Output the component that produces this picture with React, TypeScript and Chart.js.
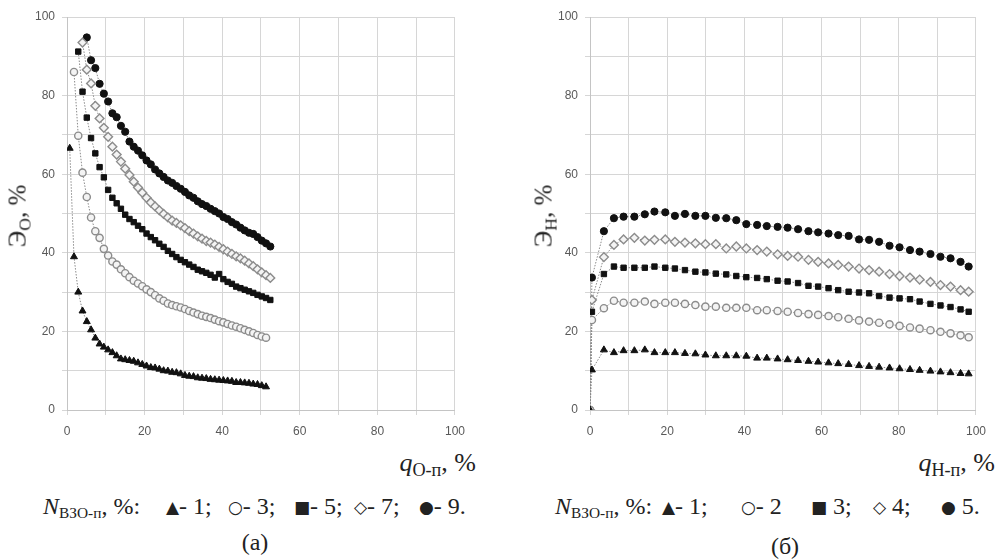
import React, { useEffect, useRef } from "react";
import { Chart, registerables } from "chart.js";
Chart.register(...registerables);

// ---- Chart (a): x positions shared by all series (each series starts at its own index)
const LEFT_X = [0.7, 1.8, 2.9, 4.0, 5.1, 6.2, 7.3, 8.4, 9.5, 10.6, 11.7, 12.8, 13.9, 15.0, 16.1, 17.2, 18.3, 19.4, 20.5, 21.6, 22.7, 23.8, 24.9, 26.0, 27.1, 28.2, 29.3, 30.4, 31.5, 32.6, 33.7, 34.8, 35.9, 37.0, 38.1, 39.2, 40.3, 41.4, 42.5, 43.6, 44.7, 45.8, 46.9, 48.0, 49.1, 50.2, 51.3, 52.4];

const A_N1 = [66.6, 39, 30, 25.2, 22.5, 20.4, 18.3, 16.8, 16, 15.3, 14.6, 13.8, 13, 12.8, 12.6, 12.4, 12, 11.6, 11.2, 10.8, 10.7, 10.4, 10, 9.9, 9.6, 9.5, 9.2, 8.8, 8.6, 8.5, 8.2, 8.1, 8, 7.8, 7.7, 7.6, 7.5, 7.4, 7.3, 7, 7, 6.9, 6.8, 6.6, 6.5, 6.2, 5.9];
const A_N3 = [86, 69.8, 60.4, 54.2, 49, 45.5, 43.8, 41, 39.3, 37.8, 37, 35.8, 34.8, 33.8, 32.9, 32.2, 31.5, 30.7, 30, 29.2, 28.4, 27.8, 27.1, 26.7, 26.4, 26.1, 25.7, 25.2, 24.8, 24.4, 24, 23.7, 23.4, 23, 22.6, 22.3, 21.9, 21.5, 21.2, 20.8, 20.4, 20, 19.6, 19.1, 18.7, 18.4];
const A_N5 = [91.2, 81, 74.4, 69.2, 65.3, 61.8, 59.2, 56, 54, 52.6, 51.2, 49.7, 48.6, 47.8, 46.9, 46, 44.9, 44, 43.2, 42.3, 41.5, 40.5, 39.7, 38.9, 38.2, 37.6, 37, 36.4, 35.7, 35.3, 34.9, 34.4, 33.7, 34.6, 33.3, 32.6, 32.1, 31.4, 31, 30.6, 30.2, 29.8, 29.3, 28.9, 28.5, 28];
const A_N7 = [93.5, 86.6, 83.1, 77.4, 74.2, 71.8, 69.5, 67, 65, 63.2, 61.4, 59.8, 58.1, 56.6, 55.3, 54, 52.8, 51.8, 50.8, 49.9, 49, 48.2, 47.6, 47, 46.3, 45.5, 44.9, 44.2, 43.6, 43, 42.6, 42.1, 41.5, 40.9, 40.3, 39.7, 39.1, 38.6, 38, 37.3, 36.6, 35.8, 35, 34.3, 33.6];
const A_N9 = [94.8, 89, 87, 83, 80.5, 78.5, 75.5, 74.5, 72.3, 70.8, 68.3, 67, 66, 64.8, 63.5, 62.5, 61.2, 60.2, 59.3, 58.4, 57.8, 57, 56.3, 55.5, 54.6, 54, 53.1, 52.4, 51.9, 51.2, 50.6, 50, 49.1, 48.6, 47.8, 47.2, 46.4, 45.7, 45.1, 44.8, 44, 43.1, 42.4, 41.6];
const A_START = [0, 1, 2, 3, 4];
const A_LEGEND = ["▲- 1;", "○- 3;", "■- 5;", "◇- 7;", "●- 9."];

// ---- Chart (б)
const RIGHT_X = [0, 0.5, 3.6, 6.2, 8.7, 11.5, 14.2, 16.7, 19.5, 22, 24.6, 27.3, 29.9, 32.6, 35.3, 37.9, 40.5, 43.3, 45.8, 48.6, 51.2, 53.9, 56.6, 59.1, 61.8, 64.3, 67, 69.7, 72.3, 74.9, 77.6, 80.2, 82.9, 85.4, 88.2, 90.8, 93.4, 96, 98.1];
const B_N1 = [0, 10.2, 15.3, 14.6, 15.1, 15.1, 15.3, 14.6, 14.6, 14.6, 14.4, 14.3, 14, 13.8, 13.8, 13.8, 13.7, 13.2, 13.2, 13, 12.8, 12.6, 12.4, 12.2, 12, 11.8, 11.6, 11.3, 11.1, 10.9, 10.7, 10.5, 10.3, 10.1, 9.9, 9.7, 9.5, 9.3, 9.2];
const B_N2 = [0, 22.9, 25.9, 27.8, 27.3, 27.3, 27.6, 27, 27.3, 27.3, 27, 26.7, 26.3, 26.3, 26, 26, 26, 25.4, 25.4, 25.2, 25, 24.7, 24.4, 24.2, 23.9, 23.6, 23.2, 22.8, 22.5, 22.2, 21.8, 21.4, 21, 20.7, 20.3, 19.9, 19.5, 19, 18.5];
const B_N3 = [0, 25, 34.6, 36.5, 36.2, 36.2, 36.2, 36.5, 36.2, 36, 35.6, 35.2, 35, 34.7, 34.5, 34.1, 33.8, 33.6, 33.3, 32.9, 32.7, 32.3, 31.6, 31.4, 31, 30.5, 30.1, 29.9, 29.7, 29, 28.6, 28.4, 28.2, 27.6, 27, 26.6, 26.2, 25.6, 25];
const B_N4 = [0, 28, 38.9, 42, 43.4, 43.8, 43.1, 43.3, 43.4, 42.8, 42.6, 42.4, 42.2, 42.2, 41.1, 41.6, 41.1, 40.7, 40.3, 39.6, 39.2, 39, 38.2, 37.7, 37.3, 36.9, 36.5, 36, 35.6, 35.2, 34.6, 34.1, 33.7, 33.2, 32.6, 31.8, 31.4, 30.5, 30.1];
const B_N5 = [0, 33.7, 45.5, 48.8, 49.2, 49.2, 49.8, 50.5, 50.3, 49.4, 49.9, 49.4, 49.4, 48.9, 48.8, 48.3, 47.3, 47.1, 46.8, 46.6, 46.4, 46, 45.5, 45.2, 44.9, 44.5, 44.3, 43.4, 43.3, 42.8, 41.8, 41.4, 40.7, 40.3, 39.7, 39, 38.6, 37.7, 36.5];
const B_LEGEND = ["▲- 1;", "○- 2", "■ 3;", "◇ 4;", "● 5."];

const AXIS_TICKS = [0, 20, 40, 60, 80, 100];

type Marker = { style: string; fill: string; stroke: string; r: number; bw: number };
const MARKERS: Marker[] = [
  { style: "triangle", fill: "#111", stroke: "#111", r: 4, bw: 1 },
  { style: "circle", fill: "#f4f4f4", stroke: "#8c8c8c", r: 3.6, bw: 1.4 },
  { style: "rect", fill: "#111", stroke: "#111", r: 3.8, bw: 1 },
  { style: "rectRot", fill: "#f4f4f4", stroke: "#8c8c8c", r: 4.4, bw: 1.4 },
  { style: "circle", fill: "#111", stroke: "#111", r: 3.6, bw: 1 },
];

function pts(xs: number[], ys: number[], start: number) {
  return ys.map((y, i) => ({ x: xs[start + i], y }));
}

function makeDatasets(series: { x: number; y: number }[][]) {
  return series.map((data, i) => {
    const m = MARKERS[i];
    return {
      data,
      showLine: true,
      borderColor: "#8a8a8a",
      borderWidth: 1,
      borderDash: [1.5, 1.5],
      pointStyle: m.style,
      pointRadius: m.r,
      pointBackgroundColor: m.fill,
      pointBorderColor: m.stroke,
      pointBorderWidth: m.bw,
    };
  });
}

function axis(isX: boolean, size: number) {
  return {
    type: "linear",
    min: 0,
    max: 100,
    afterFit: (s: any) => {
      if (isX) s.height = size;
      else s.width = size;
    },
    afterBuildTicks: (s: any) => {
      const t: any[] = [];
      for (let v = 0; v <= 100; v += 10) t.push({ value: v });
      s.ticks = t;
    },
    ticks: {
      autoSkip: false,
      maxRotation: 0,
      padding: isX ? 9 : 7,
      color: "#595959",
      font: { family: "'Liberation Sans', Arial, sans-serif", size: 12 },
      callback: (v: number) => (AXIS_TICKS.includes(v) ? String(v) : ""),
    },
    grid: { color: "#d6d6d6", lineWidth: 1, tickLength: 5, drawTicks: true },
    border: { color: "#c4c4c4" },
  };
}

function ChartCanvas(props: { series: { x: number; y: number }[][]; left: number; width: number; yAxisW: number }) {
  const ref = useRef<HTMLCanvasElement>(null);
  useEffect(() => {
    if (!ref.current) return;
    const chart = new Chart(ref.current, {
      type: "scatter",
      data: { datasets: makeDatasets(props.series) as any },
      options: {
        animation: false,
        responsive: false,
        devicePixelRatio: 1,
        layout: { padding: { top: 17, right: 12, bottom: 0, left: 0 } },
        plugins: { legend: { display: false }, tooltip: { enabled: false } },
        scales: { x: axis(true, 30) as any, y: axis(false, props.yAxisW) as any },
      },
    });
    return () => chart.destroy();
  }, []);
  return (
    <canvas
      ref={ref}
      width={props.width}
      height={440}
      style={{ position: "absolute", left: props.left, top: 0, width: props.width, height: 440 }}
    />
  );
}

const serif = "'Liberation Serif', 'Times New Roman', serif";
const sub: React.CSSProperties = { fontSize: "0.7em", verticalAlign: "-0.28em", fontStyle: "normal" };

const textBase = (size: number): React.CSSProperties => ({
  position: "absolute",
  fontFamily: serif,
  fontSize: size,
  color: "#222",
  whiteSpace: "pre",
  lineHeight: `${size}px`,
});

function YTitle(props: { cx: number; cy: number; s: string }) {
  return (
    <div
      style={{
        ...textBase(25),
        left: props.cx,
        top: props.cy,
        transform: "translate(-50%, -50%) rotate(-90deg)",
      }}
    >
      Э<span style={sub}>{props.s}</span>, %
    </div>
  );
}

function XTitle(props: { right: number; top: number; s: string }) {
  return (
    <div style={{ ...textBase(26), right: props.right, top: props.top }}>
      <span style={{ fontStyle: "italic" }}>q</span>
      <span style={sub}>{props.s}</span>, %
    </div>
  );
}

function Legend(props: { left: number; top: number; items: string[]; pos: number[] }) {
  return (
    <>
      <div style={{ ...textBase(24), left: props.left, top: props.top }}>
        <span style={{ fontStyle: "italic" }}>N</span>
        <span style={{ ...sub, fontSize: "0.64em" }}>ВЗО-п</span>, %:
      </div>
      {props.items.map((t, i) => (
        <div key={i} style={{ ...textBase(24), left: props.pos[i], top: props.top }}>
          <span style={{ fontFamily: "'DejaVu Sans', sans-serif", fontSize: 17, verticalAlign: "1px" }}>{t.slice(0, 1)}</span>
          {t.slice(1)}
        </div>
      ))}
    </>
  );
}

function Caption(props: { cx: number; cy: number; text: string }) {
  return (
    <div
      style={{
        ...textBase(24),
        left: props.cx,
        top: props.cy,
        transform: "translate(-50%, -50%)",
      }}
    >
      {props.text}
    </div>
  );
}

export default function App() {
  const left = [A_N1, A_N3, A_N5, A_N7, A_N9].map((ys, i) => pts(LEFT_X, ys, A_START[i]));
  const right = [B_N1, B_N2, B_N3, B_N4, B_N5].map((ys) => pts(RIGHT_X, ys, 0));
  return (
    <div style={{ position: "fixed", left: 0, top: 0, width: 999, height: 560, background: "#fff", overflow: "hidden" }}>
      <ChartCanvas series={left} left={0} width={474} yAxisW={67} />
      <ChartCanvas series={right} left={520} width={475} yAxisW={70} />
      <YTitle cx={21} cy={216} s="О" />
      <YTitle cx={547} cy={216} s="Н" />
      <XTitle right={999 - 476} top={450} s="О-п" />
      <XTitle right={4} top={450} s="Н-п" />
      <Legend left={43} top={494} items={A_LEGEND} pos={[166, 228, 294, 354, 419]} />
      <Legend left={555} top={494} items={B_LEGEND} pos={[662, 741, 811, 873, 941]} />
      <Caption cx={255} cy={542} text="(a)" />
      <Caption cx={785} cy={546} text="(б)" />
    </div>
  );
}
